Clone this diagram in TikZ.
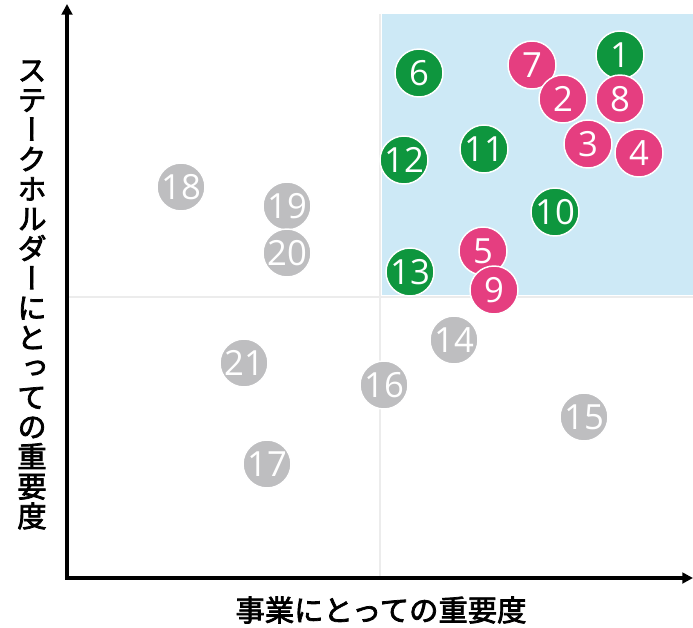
\documentclass[tikz,border=0pt]{standalone}
\usepackage{fontspec}
\usetikzlibrary{arrows.meta}
\setmainfont{Open Sans}
\newfontfamily\cjk[FakeBold=2.5]{Noto Sans CJK JP}
\newfontfamily\cjkv[RawFeature=+vert, FakeBold=2.5]{Noto Sans CJK JP}
\definecolor{matgreen}{RGB}{14,150,62}
\definecolor{matpink}{RGB}{229,62,128}
\definecolor{matgrey}{RGB}{190,190,192}
\definecolor{matblue}{RGB}{205,233,246}
\definecolor{divgrey}{RGB}{236,236,236}

\begin{document}
\begin{tikzpicture}[x=0.75pt, y=-0.75pt,
  dot/.style={circle, draw=white, line width=1.1pt, minimum size=36pt,
    inner sep=0pt, text=white, font=\fontsize{26}{26}\selectfont},
  greendot/.style={dot, fill=matgreen},
  pinkdot/.style={dot, fill=matpink},
  greydot/.style={dot, fill=matgrey},
  axislabel/.style={font=\cjk\fontsize{22}{22.3}\selectfont}]
  \useasboundingbox (0,0) rectangle (693,628);

  % quadrants
  \draw[divgrey, line width=2.2pt] (380,14) -- (380,578);
  \draw[divgrey, line width=2.2pt] (67,297) -- (693,297);
  \fill[matblue] (382,14) rectangle (693,295);

  % axes
  \coordinate (origin) at (67,578);
  \coordinate (ytop) at (67,4);
  \coordinate (xend) at (693,578);
  \draw[line width=2.3pt, {Triangle[length=8pt,width=8pt]}-{Triangle[length=8pt,width=8pt]}]
    (ytop) -- (origin) -- (xend);

  % items
  \node[greendot] (n1) at (620,55) {1};
  \node[pinkdot] (n7) at (532,65) {7};
  \node[greendot] (n6) at (419,73) {6};
  \node[pinkdot] (n2) at (563,99) {2};
  \node[pinkdot] (n8) at (620,99) {8};
  \node[pinkdot] (n3) at (588,144) {3};
  \node[pinkdot] (n4) at (639,153) {4};
  \node[greendot] (n11) at (484,149) {11};
  \node[greendot] (n12) at (404,160) {12};
  \node[greendot] (n10) at (555,212) {10};
  \node[pinkdot] (n5) at (483,251) {5};
  \node[pinkdot] (n9) at (494,290) {9};
  \node[greendot] (n13) at (410,272) {13};
  \node[greydot] (n18) at (181,187) {18};
  \node[greydot] (n19) at (287,206) {19};
  \node[greydot] (n20) at (287,253) {20};
  \node[greydot] (n14) at (454,340) {14};
  \node[greydot] (n21) at (244,363) {21};
  \node[greydot] (n16) at (384,385) {16};
  \node[greydot] (n15) at (584,417) {15};
  \node[greydot] (n17) at (267,464) {17};

  % axis labels
  \node[axislabel] (xlab) at (381,610) {事業にとっての重要度};
  \node[axislabel, font=\cjkv\fontsize{22}{22.3}\selectfont, align=center]
    (ylab) at (32,295)
    {ス\\テ\\ー\\ク\\ホ\\ル\\ダ\\ー\\に\\と\\っ\\て\\の\\重\\要\\度};
\end{tikzpicture}
\end{document}
